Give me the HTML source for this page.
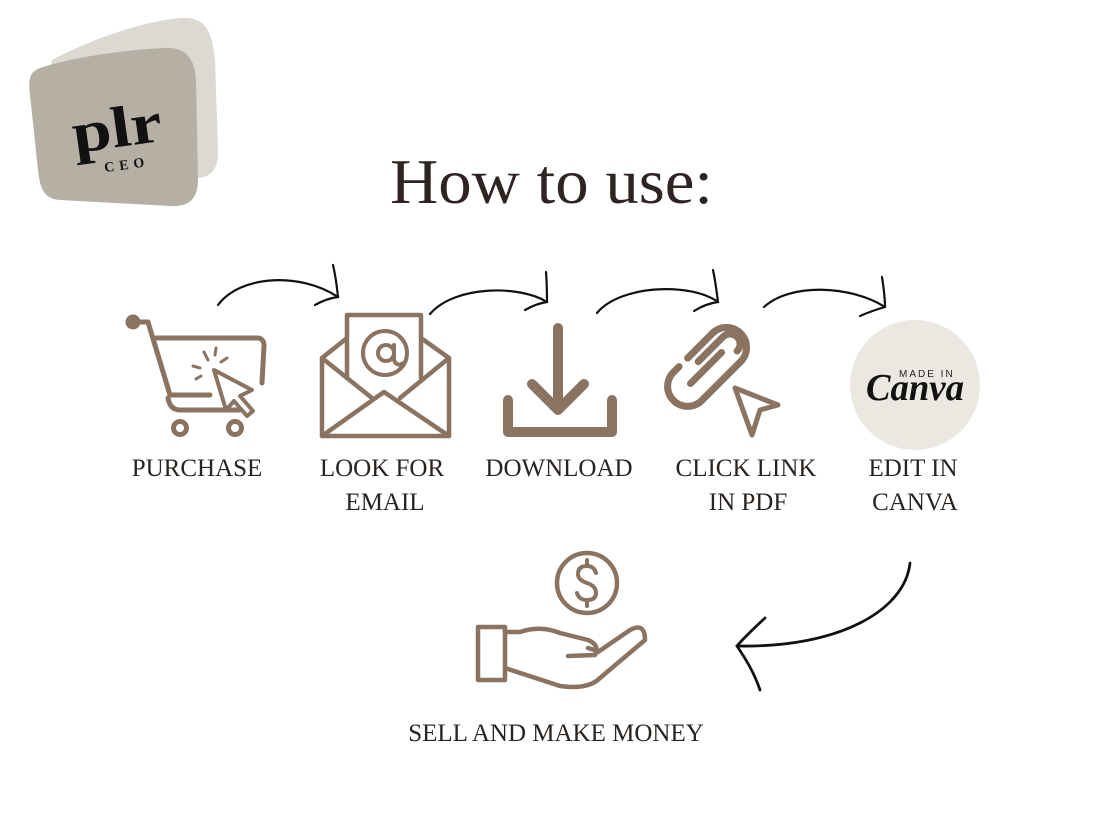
<!DOCTYPE html>
<html><head><meta charset="utf-8"><style>
html,body{margin:0;padding:0;background:#fff;}
svg{display:block;}
</style></head><body>
<svg width="1112" height="834" viewBox="0 0 1112 834" xmlns="http://www.w3.org/2000/svg">
<rect width="1112" height="834" fill="#fff"/>
<!-- logo -->
<path d="M52,60 C90,40 140,22 180,18 C205,16 212,30 215,60 L218,150 C219,170 210,180 190,178 L60,170 C45,168 40,150 40,120 Z" fill="#dcd8d2"/>
<path d="M40,68 C70,58 120,50 165,48 C185,47 195,58 196,80 L198,180 C198,200 188,207 170,206 L60,200 C45,199 40,190 38,170 L30,95 C28,78 30,72 40,68 Z" fill="#b6b0a4"/>
<text x="72" y="148" font-family="Liberation Serif, serif" font-weight="bold" font-size="58" fill="#111" transform="rotate(-8 110 130)" textLength="90" lengthAdjust="spacingAndGlyphs">plr</text>
<text x="104" y="170" font-family="Liberation Serif, serif" font-weight="bold" font-size="14" fill="#111" letter-spacing="5" transform="rotate(-8 120 165)">CEO</text>
<!-- title -->
<text x="390" y="203" font-family="Liberation Serif, serif" font-size="64" fill="#2e2522" textLength="323" lengthAdjust="spacingAndGlyphs">How to use:</text>
<!-- connector arrows -->
<g fill="none" stroke="#111" stroke-width="2.2" stroke-linecap="round">
<path d="M218,305 C240,275 300,272 338,297"/><path d="M333,265 C336,278 337,287 338,297 C330,298 322,301 315,305"/>
<path d="M430,314 C455,285 520,285 547,302"/><path d="M546,272 C547,285 547,295 547,302 C540,303 532,306 525,310"/>
<path d="M597,313 C620,285 690,282 718,302"/><path d="M713,270 C716,284 717,295 718,302 C710,303 702,306 694,311"/>
<path d="M764,307 C790,283 850,285 885,307"/><path d="M882,277 C884,290 885,300 885,307 C878,309 869,312 860,316"/>
<path d="M910,563 C905,610 840,648 737,646" stroke-width="2.8"/><path d="M765,618 C752,630 742,640 737,646 C745,658 754,672 760,690" stroke-width="2.8"/>
</g>
<!-- icons -->
<g fill="none" stroke="#8a7461" stroke-width="5" stroke-linecap="round" stroke-linejoin="round">
<!-- cart -->
<circle cx="133" cy="322" r="5" fill="#8a7461"/>
<path d="M136,322 L148,322 L170,395 L210,395"/>
<path d="M155,338 L257,338 Q264,338 264,346 L262,383"/>
<path d="M168,398 Q170,410 180,410 L240,410"/>
<circle cx="180" cy="428" r="6.5"/><circle cx="235" cy="428" r="6.5"/>
<path d="M214,370 L252,390 L240,396 L253,411 L247,416 L234,401 L226,410 Z" stroke-width="4"/>
<path d="M208,360 L204,352 M200,368 L193,366 M215,355 L216,348 M201,376 L196,379 M221,362 L227,358" stroke-width="3"/>
<!-- envelope -->
<path d="M322,358 L322,436 L449,436 L449,358 L421,338 M347,338 L322,358" stroke-width="4.5"/>
<path d="M322,358 L372,398 M449,358 L400,398 M322,436 L384,392 L449,436" stroke-width="4.5"/>
<path d="M347,378 L347,315 L421,315 L421,378" stroke-width="4.5"/>
<circle cx="385" cy="353" r="22" stroke-width="4"/>
<circle cx="386" cy="353" r="8" stroke-width="4"/>
<path d="M394,345 L394,360 Q397,368 405,362" stroke-width="4"/>
<!-- download -->
<path d="M558,328 L558,408 M532,384 L558,410 L584,384" stroke-width="10"/>
<path d="M508,400 L508,432 L612,432 L612,400" stroke-width="10"/>
<!-- link (paperclip) -->
<g transform="rotate(-45 706 368)" stroke-width="7">
<path d="M700,348 L735,348 A20,20 0 0 1 735,388 L680,388 A20,20 0 0 1 680,348 L688,348"/>
<path d="M684,368 L728,368"/>
<path d="M705,358 L740,358 A10,10 0 0 1 740,378" />
</g>
<path d="M735,388 L778,405 L760,410 L752,435 Z" stroke-width="5"/>
<!-- hand -->
<rect x="478" y="627" width="27" height="53" stroke-width="4.5"/>
<path d="M505,632 L520,632 Q540,625 560,633 L588,640 Q600,645 595,655 L568,656" stroke-width="4.5"/>
<path d="M588,648 Q595,650 598,652 L630,630 Q645,622 645,640 L600,678 Q588,690 560,686 L505,668" stroke-width="4.5"/>
<circle cx="587" cy="583" r="30" stroke-width="4.5"/>
<path d="M596,573 Q594,566 587,566 Q578,566 578,574 Q578,580 587,583 Q596,586 596,593 Q596,600 587,600 Q579,600 577,593 M587,560 L587,566 M587,600 L587,606" stroke-width="4"/>
</g>
<!-- canva -->
<circle cx="915" cy="385" r="65" fill="#ebe7e1"/>
<text x="866" y="400" font-family="Liberation Serif, serif" font-style="italic" font-weight="bold" font-size="38" fill="#111" textLength="98" lengthAdjust="spacingAndGlyphs">Canva</text>
<text x="899" y="377" font-family="Liberation Sans, sans-serif" font-size="10" fill="#222" letter-spacing="2">MADE IN</text>
<!-- labels -->
<g font-family="Liberation Serif, serif" font-size="25" fill="#2a2420" text-anchor="middle">
<text x="197" y="476">PURCHASE</text>
<text x="382" y="476">LOOK FOR</text>
<text x="385" y="510">EMAIL</text>
<text x="559" y="476">DOWNLOAD</text>
<text x="746" y="476">CLICK LINK</text>
<text x="748" y="510">IN PDF</text>
<text x="913" y="476">EDIT IN</text>
<text x="915" y="510">CANVA</text>
<text x="556" y="741">SELL AND MAKE MONEY</text>
</g>
</svg>
</body></html>
